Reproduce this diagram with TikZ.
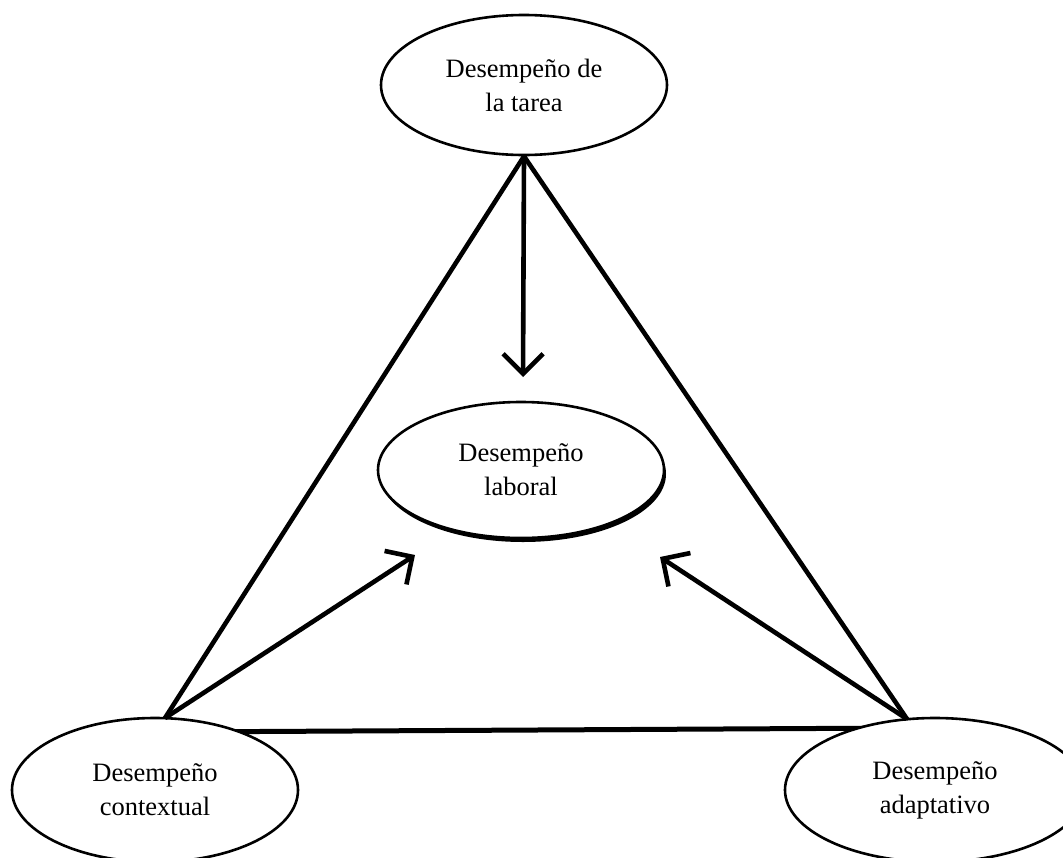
\documentclass[tikz,border=0pt]{standalone}
\usepackage{fontspec}
\setmainfont{Liberation Serif}
\usetikzlibrary{shapes.geometric,arrows.meta,shadows}
\tikzset{
  ell/.style={ellipse, draw=black, line width=2.6pt, fill=white, inner sep=0pt,
    minimum width=286pt, minimum height=140pt, align=center,
    font=\fontsize{26.5pt}{34pt}\selectfont},
  edge/.style={line width=4.6pt, black},
  arr/.style={edge, -{Straight Barb[length=20pt, width=40pt, line width=4.6pt]}}
}
\begin{document}
\begin{tikzpicture}[x=1pt,y=-1pt]
  \useasboundingbox (0,0) rectangle (1063,857);
  % base of the triangle, passing behind the lower ellipses
  \coordinate (hl) at (165,732);
  \coordinate (hr) at (907,728);
  \draw[edge, line width=5pt] (hl) -- (hr);
  % concept ellipses
  \node[ell] (tarea) at (524,85) {Desempeño de\\la tarea};
  \node[ell, minimum height=136pt,
        drop shadow={shadow xshift=2pt, shadow yshift=-4pt, fill=black, opacity=1}]
        (laboral) at (521,470) {Desempeño\\laboral};
  \node[ell, minimum height=144pt] (contextual) at (155,790) {Desempeño\\contextual};
  \node[ell, minimum width=300pt, minimum height=144pt] (adaptativo) at (935,790) {Desempeño\\adaptativo};
  % triangle vertices on the lower ellipses and arrow tips
  \coordinate (vl) at (165,718);
  \coordinate (vr) at (907,719);
  \coordinate (tipd) at (523,377);
  \coordinate (tipl) at (415,555);
  \coordinate (tipr) at (660,557);
  % sides of the triangle
  \draw[edge] (tarea.south) -- (vl);
  \draw[edge] (tarea.south) -- (vr);
  % influences on job performance
  \draw[arr] (tarea.south) -- (tipd);
  \draw[arr] (vl) -- (tipl);
  \draw[arr] (vr) -- (tipr);
\end{tikzpicture}
\end{document}
